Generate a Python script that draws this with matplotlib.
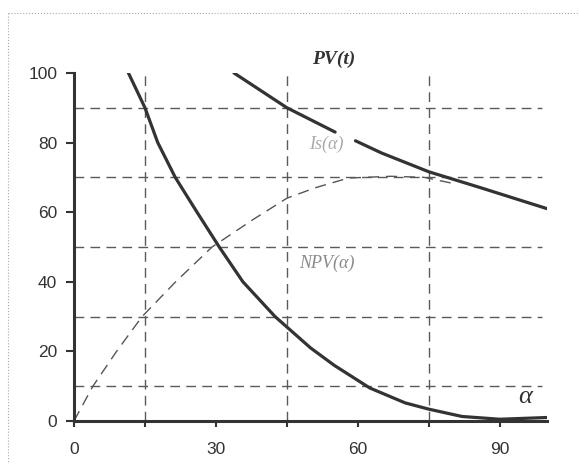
import matplotlib
matplotlib.use("Agg")
import matplotlib.pyplot as plt
from matplotlib.lines import Line2D

# values
steep_x = [11.5, 15, 17.7, 21.4, 26, 30.7, 35.7, 42.5, 50, 55, 62.5, 70, 75, 82, 90, 100]
steep_y = [100, 90, 80, 70, 60, 50, 40, 30, 21, 16, 9.5, 5.2, 3.4, 1.3, 0.5, 1.0]

npv_x = [0, 4, 9, 14.4, 21.5, 29.2, 38, 45, 51, 58, 67, 74, 81]
npv_y = [0, 10, 20, 30, 40, 50, 58, 64, 67, 69.8, 70.3, 70, 68]

pv_x1 = [33.8, 45, 55.2]
pv_y1 = [100, 90, 83]
pv_x2 = [59.5, 65, 75, 86, 100]
pv_y2 = [80.5, 77, 71.6, 67, 61]

grid_h = [10, 30, 50, 70, 90]
grid_v = [15, 45, 75]
xticks = [0, 15, 30, 45, 60, 75, 90]
xtick_labels = ["0", "", "30", "", "60", "", "90"]
yticks = [0, 20, 40, 60, 80, 100]

plt.rcParams['font.family'] = ['Liberation Sans', 'DejaVu Sans']

fig = plt.figure(figsize=(5.79, 4.71), dpi=100)
ax = fig.add_axes([0.1278, 0.1062, 0.817, 0.739])

# dashed grid
for y in grid_h:
    ax.plot([0, 99], [y, y], color='#5a5a5a', lw=1.0, dashes=(7, 4.5), zorder=1)
for x in grid_v:
    ax.plot([x, x], [0, 100], color='#5a5a5a', lw=1.0, dashes=(7, 4.5), zorder=1)

# curves
ax.plot(steep_x, steep_y, color='#333333', lw=2.3, solid_capstyle='round', zorder=3)
ax.plot(pv_x1, pv_y1, color='#333333', lw=2.3, solid_capstyle='round', zorder=3)
ax.plot(pv_x2, pv_y2, color='#333333', lw=2.3, solid_capstyle='round', zorder=3)
ax.plot(npv_x, npv_y, color='#555555', lw=1.0, dashes=(8, 5), zorder=2)

# labels
serif = ['Liberation Serif', 'DejaVu Serif']
ax.text(54.8, 103.9, "PV(t)", family=serif, style='italic', weight='bold', fontsize=14,
        color='#333333', ha='center', va='center', clip_on=False)
ax.text(53.3, 79.6, "Is(α)", family=serif, style='italic', fontsize=13,
        color='#aaaaaa', ha='center', va='center')
ax.text(53.5, 45.4, "NPV(α)", family=serif, style='italic', fontsize=13,
        color='#8a8a8a', ha='center', va='center')
ax.text(95.3, 6.9, "α", family=serif, style='italic', fontsize=19,
        color='#333333', ha='center', va='center')

ax.set_xlim(0, 100)
ax.set_ylim(0, 100)
ax.set_xticks(xticks)
ax.set_xticklabels(xtick_labels)
ax.set_yticks(yticks)
for s in ['top', 'right']:
    ax.spines[s].set_visible(False)
for s in ['left', 'bottom']:
    ax.spines[s].set_linewidth(2.2)
    ax.spines[s].set_color('#333333')
ax.tick_params(axis='x', length=4, width=1.5, color='#333333', pad=11,
               labelsize=12.5, labelcolor='#333333')
ax.tick_params(axis='y', length=6, width=1.5, color='#333333', pad=6,
               labelsize=12.5, labelcolor='#333333')

# dotted frame around the figure (top and left edges)
fig.add_artist(Line2D([8 / 579, 1.0], [1 - 13 / 471, 1 - 13 / 471],
                      transform=fig.transFigure, color='#aaaaaa', lw=0.8, ls=':'))
fig.add_artist(Line2D([8 / 579, 8 / 579], [1 - 13 / 471, 1 - 462 / 471],
                      transform=fig.transFigure, color='#aaaaaa', lw=0.8, ls=':'))

fig.savefig("out.png", dpi=100)
